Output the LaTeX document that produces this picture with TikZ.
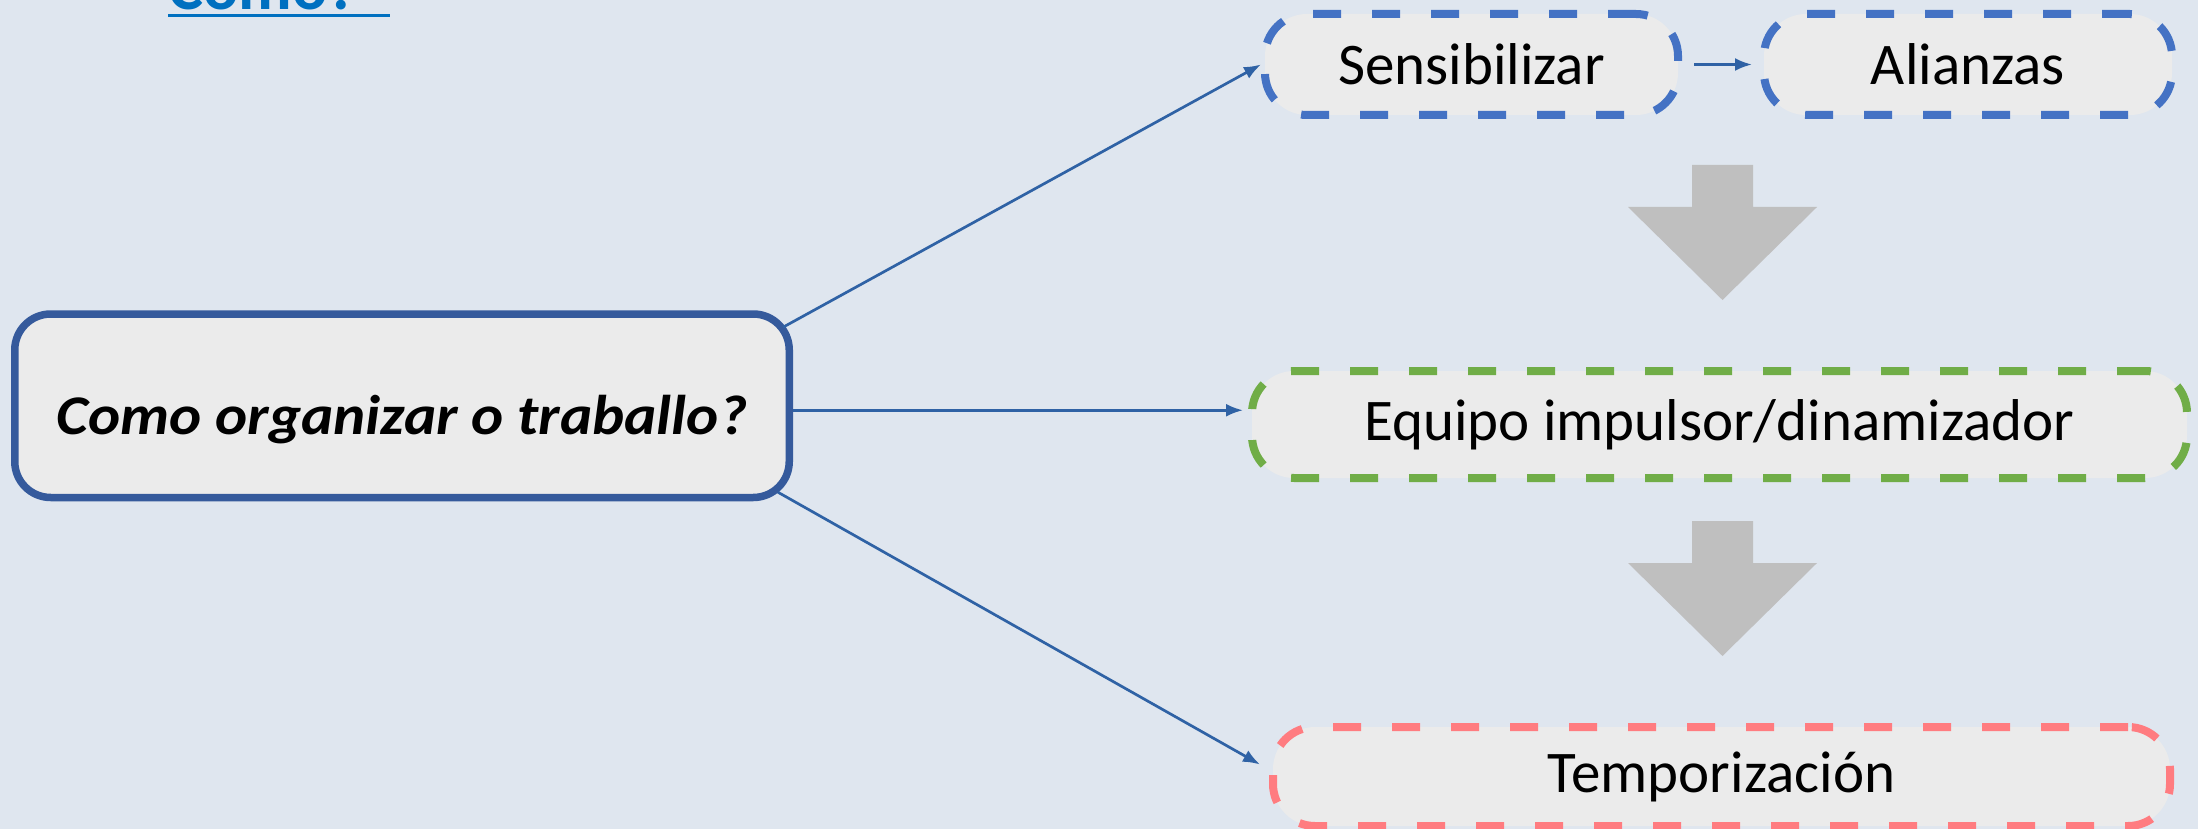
\documentclass[tikz,border=0pt]{standalone}
\usepackage{fontspec}
\setmainfont{Carlito}
\newfontfamily\mainqfont[FakeStretch=1.09]{Carlito}
\usetikzlibrary{arrows.meta,calc}
\definecolor{bgcol}{HTML}{DFE6EF}
\definecolor{boxfill}{HTML}{EBEBEB}
\definecolor{mainborder}{HTML}{355A9C}
\definecolor{conncol}{HTML}{2F62A5}
\definecolor{dashblue}{HTML}{4472C4}
\definecolor{dashgreen}{HTML}{70AD47}
\definecolor{dashred}{HTML}{FF7C80}
\definecolor{grayarrow}{HTML}{BFBFBF}
\definecolor{linkblue}{HTML}{0070C0}
\begin{document}
\begin{tikzpicture}[x=1pt,y=-1pt,
  dashbox/.style={draw=#1, fill=boxfill, line width=8pt, rounded corners=42pt,
    dash pattern=on 28pt off 31pt, inner sep=0pt,
    font=\fontsize{59}{70}\selectfont},
  mainbox/.style={draw=mainborder, fill=boxfill, line width=7.5pt, rounded corners=36pt,
    inner sep=0pt, minimum width=774.5pt, minimum height=183.5pt,
    text height=58pt, text depth=0pt,
    font=\mainqfont\bfseries\itshape\fontsize{56}{66}\selectfont},
  conn/.style={draw=conncol, line width=2.7pt, -{Latex[length=17pt,width=13pt]}},
  bigarrow/.style={fill=grayarrow}
]
\useasboundingbox (0,0) rectangle (2198,829);
\fill[bgcol] (0,0) rectangle (2198,829);
\clip (0,0) rectangle (2198,829);

% title fragment at the top
\node[anchor=base west, inner sep=0pt, text=linkblue,
  font=\bfseries\fontsize{66}{78}\selectfont] (title) at (168,10) {Como?};
\draw[linkblue, line width=3.3pt] (168,15.7) -- (390,15.7);

% main box
\node[mainbox] (main) at (402,405.75) {Como organizar o traballo?};

% dashed boxes
\node[dashbox=dashblue, minimum width=413pt, minimum height=101pt] (sens) at (1471.5,64.5) {Sensibilizar};
\node[dashbox=dashblue, minimum width=408pt, minimum height=101pt] (ali) at (1968,64.5) {Alianzas};
\node[dashbox=dashgreen, minimum width=935pt, minimum height=107pt] (equipo) at (1719.5,424.5) {Equipo impulsor/dinamizador};
\node[dashbox=dashred, minimum width=897pt, minimum height=99pt] (temp) at (1721.5,776.5) {Temporización};

% gray down arrows
\fill[bigarrow] (1692,165) -- (1753,165) -- (1753,207) -- (1817,207) -- (1722.5,300) -- (1628,207) -- (1692,207) -- cycle;
\fill[bigarrow] (1692,521) -- (1753,521) -- (1753,563) -- (1817,563) -- (1722.5,656) -- (1628,563) -- (1692,563) -- cycle;

% connectors
\coordinate (m1) at ($(main.north east)+(-10,17)$);
\coordinate (m2) at ($(main.east)+(0,4.5)$);
\coordinate (m3) at ($(main.south east)+(-15,-9)$);
\draw[conn] (m1) -- (sens.west);
\draw[conn, shorten >=5pt] (m2) -- (m2 -| equipo.west);
\draw[conn] (m3) -- ($(temp.west)+(-9,-12)$);
\draw[conn, shorten <=12pt, shorten >=8pt] (sens.east) -- (ali.west);
\end{tikzpicture}
\end{document}
